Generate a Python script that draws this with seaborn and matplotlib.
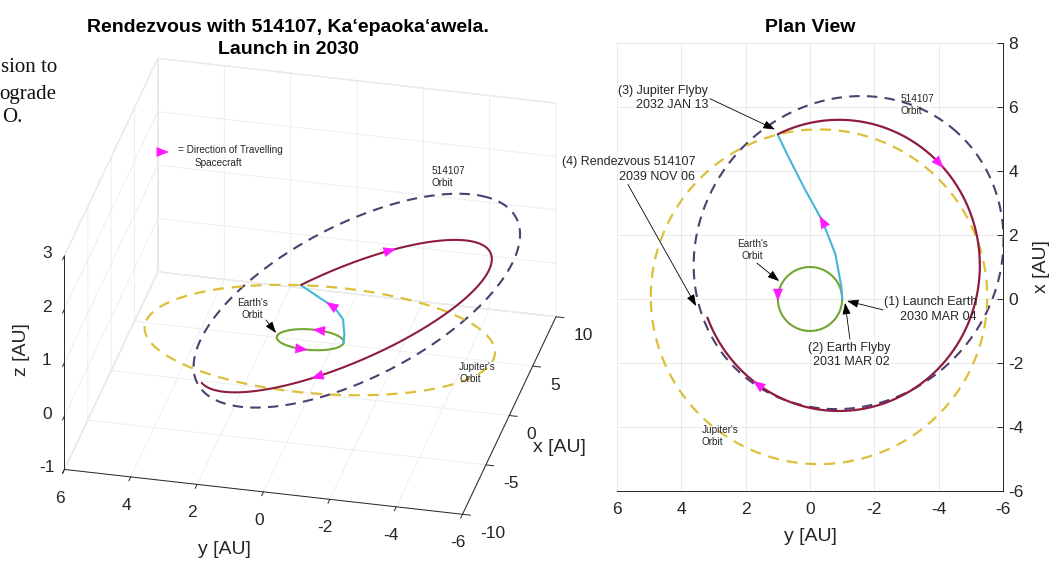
import numpy as np
import matplotlib
matplotlib.use("Agg")
import matplotlib.pyplot as plt
import seaborn as sns
from matplotlib.patches import FancyArrowPatch
from mpl_toolkits.mplot3d import proj3d

sns.set_theme(style="white")
plt.rcParams["font.family"] = ["Liberation Sans", "DejaVu Sans"]
plt.rcParams["axes.unicode_minus"] = False
plt.rcParams["grid.color"] = "#ebebeb"
plt.rcParams["grid.linewidth"] = 0.6

# ---------------- orbit and trajectory values (AU) ----------------
# Earth's orbit: circle in the ecliptic, centre given as (y, x)
earth_center_yx = [0.0, 0.0]
earth_radius = 1.0

# Jupiter's orbit
jupiter_center_yx = [-0.28, 0.07]
jupiter_radius = 5.23

# 514107 Ka'epaoka'awela: ecliptic-projected ellipse and the tilt of its plane
ast_center_yx = [-1.2, 1.45]
ast_semi_axes = [5.05, 4.65]
ast_rotation_deg = 129.6
ast_plane_slope_xy = [0.17, -0.25]      # dz/dx, dz/dy

# Jupiter flyby -> rendezvous arc
arc_center_yx = [-0.9, 1.05]
arc_semi_axes = [4.38, 4.55]
arc_span_deg = [64.3, 339.0]
arc_plane_slope_xy = [0.055, -0.28]

# Earth flyby -> Jupiter flyby leg
leg_y = [-1.00, -0.98, -0.79, -0.39, 0.18, 0.70, 1.00]
leg_x = [0.00, 0.35, 1.40, 2.43, 3.47, 4.50, 5.13]
leg_z = [0.00, 0.10, 0.18, 0.18, 0.12, 0.05, 0.00]

y_ticks = [6, 4, 2, 0, -2, -4, -6]
x3d_ticks = [-10, -5, 0, 5, 10]
z_ticks = [-1, 0, 1, 2, 3]
plan_x_ticks = [-6, -4, -2, 0, 2, 4, 6, 8]

C_ARC = "#8e1c3e"
C_LEG = "#45b5da"
C_EARTH = "#73a532"
C_JUP = "#dcc03a"
C_AST = "#4d3f70"
C_DIR = "#ff1aff"
C_TXT = "#262626"


def ellipse_yx(center, semi, rot_deg, t_deg):
    """Points of an ellipse in the (y, x) plane for parameter angles t_deg."""
    t = np.radians(t_deg)
    r = np.radians(rot_deg)
    cy, cx = center
    a, b = semi
    y = cy + a * np.cos(t) * np.cos(r) - b * np.sin(t) * np.sin(r)
    x = cx + a * np.cos(t) * np.sin(r) + b * np.sin(t) * np.cos(r)
    return y, x


full = np.linspace(0, 360, 721)
earth_y, earth_x = ellipse_yx(earth_center_yx, [earth_radius] * 2, 0, full)
earth_z = np.zeros_like(earth_y)
jup_y, jup_x = ellipse_yx(jupiter_center_yx, [jupiter_radius] * 2, 0, full)
jup_z = np.zeros_like(jup_y)
ast_y, ast_x = ellipse_yx(ast_center_yx, ast_semi_axes, ast_rotation_deg, full)
ast_z = ast_plane_slope_xy[0] * ast_x + ast_plane_slope_xy[1] * ast_y
arc_t = np.linspace(arc_span_deg[0], arc_span_deg[1], 600)
arc_y, arc_x = ellipse_yx(arc_center_yx, arc_semi_axes, 0, arc_t)
arc_z = arc_plane_slope_xy[0] * arc_x + arc_plane_slope_xy[1] * arc_y


class Arrow3D(FancyArrowPatch):
    """Arrow head placed between two 3-D points."""

    def __init__(self, p0, p1, **kw):
        super().__init__((0, 0), (0, 0), **kw)
        self._verts3d = p0, p1

    def do_3d_projection(self, renderer=None):
        p0, p1 = self._verts3d
        xs, ys, zs = proj3d.proj_transform(np.array([p0[0], p1[0]]),
                                           np.array([p0[1], p1[1]]),
                                           np.array([p0[2], p1[2]]), self.axes.M)
        self.set_positions((xs[0], ys[0]), (xs[1], ys[1]))
        return np.min(zs)


DIR_STYLE = dict(arrowstyle="-|>,head_length=0.9,head_width=0.36",
                 color=C_DIR, lw=0, shrinkA=0, shrinkB=0, mutation_scale=10)


def arc_point(t):
    y, x = ellipse_yx(arc_center_yx, arc_semi_axes, 0, t)
    z = arc_plane_slope_xy[0] * x + arc_plane_slope_xy[1] * y
    return float(x), float(y), float(z)


def earth_point(t):
    y, x = ellipse_yx(earth_center_yx, [earth_radius] * 2, 0, t)
    return float(x), float(y), 0.0


def leg_point(i, f):
    return (leg_x[i] + f * (leg_x[i + 1] - leg_x[i]),
            leg_y[i] + f * (leg_y[i + 1] - leg_y[i]),
            leg_z[i] + f * (leg_z[i + 1] - leg_z[i]))


fig = plt.figure(figsize=(10.55, 5.61), dpi=100)
W, H = 1055.0, 561.0

# ---------------- 3-D view ----------------
S = 520.0
cx3, cy3 = 303.2, 293.3
ax3 = fig.add_axes([(cx3 - S / 2) / W, 1 - (cy3 + S / 2) / H, S / W, S / H],
                   projection="3d", computed_zorder=False)
ax3.set_proj_type("ortho")
ax3.view_init(elev=29.2, azim=-167)
ax3.set_box_aspect((416, 409, 245), zoom=1.18)

ax3.plot(ast_x, ast_y, ast_z, color=C_AST, lw=1.5, ls=(0, (5, 3.5)), zorder=2)
ax3.plot(jup_x, jup_y, jup_z, color=C_JUP, lw=1.6, ls=(0, (5, 3.5)), zorder=2)
ax3.plot(earth_x, earth_y, earth_z, color=C_EARTH, lw=1.5, zorder=3)
ax3.plot(leg_x, leg_y, leg_z, color=C_LEG, lw=1.5, zorder=4)
ax3.plot(arc_x, arc_y, arc_z, color=C_ARC, lw=1.5, zorder=4)

# direction-of-travel heads
for p0, p1 in [(arc_point(98), arc_point(102)), (arc_point(271), arc_point(275)),
               (earth_point(94), earth_point(86)), (earth_point(274), earth_point(266)),
               (leg_point(3, 0.2), leg_point(3, 0.6))]:
    ax3.add_artist(Arrow3D(p0, p1, zorder=6, **DIR_STYLE))

ax3.set_xlim(-10, 10)
ax3.set_ylim(-6, 6)
ax3.set_zlim(-1, 3)
ax3.set_xticks(x3d_ticks)
ax3.set_yticks(y_ticks)
ax3.set_zticks(z_ticks)
for axis in (ax3.xaxis, ax3.yaxis, ax3.zaxis):
    axis.set_pane_color((1, 1, 1, 1))
    axis.pane.set_edgecolor("#e6e6e6")
    axis.line.set_color(C_TXT)
    axis.line.set_linewidth(0.7)
    axis._axinfo["tick"]["inward_factor"] = 0.25
    axis._axinfo["tick"]["outward_factor"] = 0.0
    axis._axinfo["tick"]["linewidth"][True] = 0.7
    axis._axinfo["tick"]["color"] = C_TXT
ax3.tick_params(labelsize=12.5, colors=C_TXT)
ax3.xaxis.set_tick_params(pad=0.6)
ax3.yaxis.set_tick_params(pad=2)
ax3.zaxis.set_tick_params(pad=-1)
for tick in ax3.xaxis.get_major_ticks():
    tick.label1.set_horizontalalignment("left")
for tick in ax3.zaxis.get_major_ticks():
    tick.label1.set_verticalalignment("bottom")
ax3.xaxis.set_rotate_label(False)
ax3.yaxis.set_rotate_label(False)
ax3.zaxis.set_rotate_label(False)
ax3.set_xlabel("x [AU]", fontsize=14, color=C_TXT, labelpad=3.5)
ax3.set_ylabel("y [AU]", fontsize=14, color=C_TXT, labelpad=6.2)
ax3.set_zlabel("z [AU]", fontsize=14, color=C_TXT, rotation=90, labelpad=-4.1)
ax3.yaxis._axinfo["label"]["ha"] = "right"
ax3.zaxis._axinfo["label"]["ha"] = "left"

# ---------------- plan view ----------------
ax2 = fig.add_axes([617 / W, 1 - 491 / H, 386 / W, 448 / H])
sns.lineplot(x=ast_y, y=ast_x, sort=False, estimator=None, color=C_AST, lw=1.5,
             linestyle=(0, (5, 3.5)), ax=ax2)
sns.lineplot(x=jup_y, y=jup_x, sort=False, estimator=None, color=C_JUP, lw=1.6,
             linestyle=(0, (5, 3.5)), ax=ax2)
sns.lineplot(x=earth_y, y=earth_x, sort=False, estimator=None, color=C_EARTH, lw=1.5, ax=ax2)
sns.lineplot(x=leg_y, y=leg_x, sort=False, estimator=None, color=C_LEG, lw=1.5, ax=ax2)
sns.lineplot(x=arc_y, y=arc_x, sort=False, estimator=None, color=C_ARC, lw=1.6, ax=ax2)

for p0, p1 in [(arc_point(134), arc_point(138)), (arc_point(303.6), arc_point(307.6)),
               (earth_point(4), earth_point(-4)), (leg_point(3, 0.0), leg_point(3, 0.16))]:
    ax2.add_patch(FancyArrowPatch((p0[1], p0[0]), (p1[1], p1[0]), zorder=6, **DIR_STYLE))

ax2.set_xlim(6, -6)
ax2.set_ylim(-6, 8)
ax2.set_xticks(y_ticks)
ax2.set_yticks(plan_x_ticks)
ax2.yaxis.tick_right()
ax2.yaxis.set_label_position("right")
for side in ("top", "left"):
    ax2.spines[side].set_visible(False)
for side in ("bottom", "right"):
    ax2.spines[side].set_color(C_TXT)
    ax2.spines[side].set_linewidth(0.7)
ax2.grid(True, color="#e6e6e6", lw=0.6)
ax2.tick_params(direction="in", length=4, width=0.7, labelsize=12.5, colors=C_TXT)
ax2.tick_params(axis="x", pad=8)
ax2.tick_params(axis="y", pad=4)
ax2.set_xlabel("y [AU]", fontsize=14, color=C_TXT)
ax2.set_ylabel("x [AU]", fontsize=14, color=C_TXT)
ax2.xaxis.set_label_coords(0.5, -0.083)
ax2.yaxis.set_label_coords(1.078, 0.5)

BLACK_ARROW = dict(arrowstyle="-|>,head_length=0.7,head_width=0.25", color="black",
                   lw=0.6, shrinkA=0, shrinkB=0, mutation_scale=10)
plan_notes = [
    ("(3) Jupiter Flyby\n2032 JAN 13", (3.17, 6.29), (3.11, 6.26), (1.09, 5.30)),
    ("(4) Rendezvous 514107\n2039 NOV 06", (3.57, 4.05), (5.66, 3.58), (3.54, -0.22)),
    ("(1) Launch Earth\n2030 MAR 04", (-5.19, -0.33), (-2.27, -0.34), (-1.15, -0.06)),
    ("(2) Earth Flyby\n2031 MAR 02", (-2.49, -1.76), (-1.24, -1.25), (-1.09, -0.12)),
]
for txt, pos, tail, tip in plan_notes:
    ax2.text(pos[0], pos[1], txt, ha="right", va="center", ma="right", fontsize=9,
             color=C_TXT, linespacing=1.25, zorder=7)
    ax2.annotate("", xy=tip, xytext=tail, arrowprops=BLACK_ARROW, zorder=7)
ax2.text(1.80, 1.53, "Earth's\nOrbit", ha="center", va="center", fontsize=7.2,
         color=C_TXT, linespacing=1.25)
ax2.annotate("", xy=(0.96, 0.56), xytext=(1.65, 1.12), arrowprops=BLACK_ARROW)
ax2.text(-2.80, 6.06, "514107\nOrbit", ha="left", va="center", fontsize=7.2,
         color=C_TXT, linespacing=1.25)
ax2.text(3.36, -4.28, "Jupiter's\nOrbit", ha="left", va="center", fontsize=7.2,
         color=C_TXT, linespacing=1.25)

# ---------------- figure texts ----------------
fig.text(288 / W, 1 - 27 / H, "Rendezvous with 514107, Ka\u2018epaoka\u2018awela.",
         ha="center", va="center", fontsize=14, fontweight="bold", color="black")
fig.text(288 / W, 1 - 50 / H, "Launch in 2030", ha="center", va="center",
         fontsize=14, fontweight="bold", color="black")
fig.text(810 / W, 1 - 27 / H, "Plan View", ha="center", va="center", fontsize=14,
         fontweight="bold", color="black")

fig.text(432 / W, 1 - 176.5 / H, "514107\nOrbit", ha="left", va="center", fontsize=7.2,
         color=C_TXT, linespacing=1.25)
fig.text(252 / W, 1 - 309.5 / H, "Earth's\nOrbit", ha="center", va="center",
         fontsize=7.2, color=C_TXT, linespacing=1.25)
fig.add_artist(FancyArrowPatch((266 / W, 1 - 320 / H), (276 / W, 1 - 333 / H),
                               transform=fig.transFigure, **BLACK_ARROW))
fig.text(459 / W, 1 - 373 / H, "Jupiter's\nOrbit", ha="left", va="center", fontsize=7.2,
         color=C_TXT, linespacing=1.25)
fig.add_artist(FancyArrowPatch((157 / W, 1 - 152 / H), (169 / W, 1 - 152 / H),
                               transform=fig.transFigure, **DIR_STYLE))
fig.text(178 / W, 1 - 150 / H, "= Direction of Travelling", ha="left", va="center",
         fontsize=7.2, color=C_TXT)
fig.text(195 / W, 1 - 163 / H, "Spacecraft", ha="left", va="center", fontsize=7.2,
         color=C_TXT)

# fragment of the surrounding page text at the left edge
serif = ["Liberation Serif", "DejaVu Serif"]
fig.text(1 / W, 1 - 67 / H, "sion to", ha="left", va="center", fontsize=15,
         family=serif, color="#111111")
fig.text(-1 / W, 1 - 95 / H, "ograde", ha="left", va="center", fontsize=15,
         family=serif, color="#111111")
fig.text(2 / W, 1 - 118 / H, "O.", ha="left", va="center", fontsize=15,
         family=serif, color="#111111")

fig.savefig("out.png", dpi=100, facecolor="white")
